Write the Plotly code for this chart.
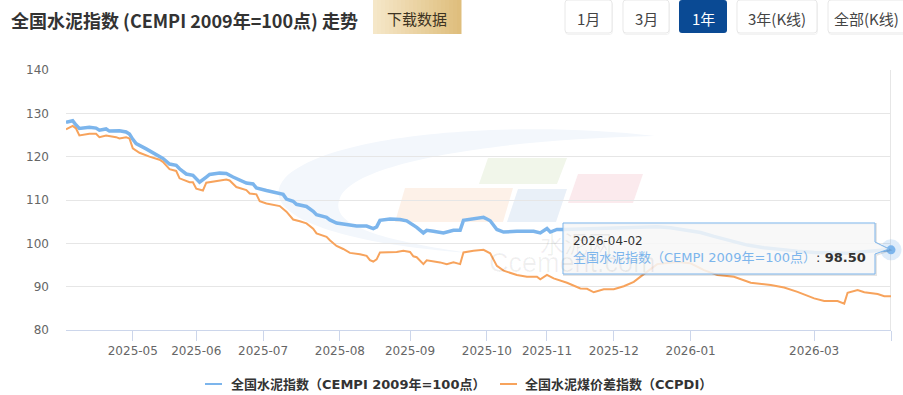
import pandas as pd
import plotly.graph_objects as go

# ---------------- calendar (publication days) ----------------
START, END = "2025-04-03", "2026-04-02"
holidays = ["2025-04-04", "2025-05-01", "2025-05-02", "2025-05-05", "2025-06-02",
            "2025-10-01", "2025-10-02", "2025-10-03", "2025-10-06", "2025-10-07", "2025-10-08",
            "2026-01-01", "2026-01-02", "2026-02-16", "2026-02-17", "2026-02-18",
            "2026-02-19", "2026-02-20", "2026-02-23"]
makeup_days = ["2025-04-27", "2025-09-28", "2025-10-11", "2026-01-04", "2026-02-14", "2026-02-28"]

# ---------------- data ----------------
cempi_dates = ["2025-04-03", "2025-04-08", "2025-04-09", "2025-04-10", "2025-04-15", "2025-04-17",
               "2025-04-18", "2025-04-22", "2025-04-23", "2025-04-27", "2025-04-29", "2025-04-30",
               "2025-05-06", "2025-05-07", "2025-05-12", "2025-05-15", "2025-05-16", "2025-05-19",
               "2025-05-21", "2025-05-23", "2025-05-26", "2025-05-28", "2025-05-30", "2025-06-03",
               "2025-06-04", "2025-06-06", "2025-06-09", "2025-06-12", "2025-06-16", "2025-06-18",
               "2025-06-20", "2025-06-24", "2025-06-26", "2025-06-27", "2025-07-02", "2025-07-07",
               "2025-07-09", "2025-07-10", "2025-07-14", "2025-07-15", "2025-07-18", "2025-07-22",
               "2025-07-23", "2025-07-28", "2025-07-29", "2025-07-31", "2025-08-05", "2025-08-08",
               "2025-08-13", "2025-08-15", "2025-08-18", "2025-08-19", "2025-08-22", "2025-08-27",
               "2025-08-29", "2025-09-02", "2025-09-03", "2025-09-05", "2025-09-08", "2025-09-10",
               "2025-09-15", "2025-09-18", "2025-09-22", "2025-09-23", "2025-09-26", "2025-09-30",
               "2025-10-09", "2025-10-10", "2025-10-13", "2025-10-15", "2025-10-21", "2025-10-28",
               "2025-10-30", "2025-11-03", "2025-11-04", "2025-11-06", "2025-11-10", "2025-11-14",
               "2025-11-24", "2025-12-02", "2025-12-10", "2025-12-18", "2025-12-24", "2025-12-30",
               "2026-01-04", "2026-01-07", "2026-01-13", "2026-01-20", "2026-01-27", "2026-02-03",
               "2026-02-10", "2026-02-24", "2026-03-02", "2026-03-09", "2026-03-16", "2026-03-20",
               "2026-03-25", "2026-03-30", "2026-04-02"]
cempi_values = [127.9, 128.3, 127.3, 126.5, 126.8, 126.6,
                126.1, 126.4, 125.9, 126.0, 125.7, 125.2,
                124.0, 123.0, 121.8, 120.6, 120.2, 119.6,
                118.3, 118.0, 117.2, 116.0, 115.7, 115.0,
                114.1, 115.3, 115.9, 116.2, 116.1, 115.3,
                114.6, 113.9, 113.7, 112.8, 112.2, 111.7,
                111.3, 110.2, 109.7, 109.0, 108.5, 107.4,
                106.6, 106.0, 105.4, 104.7, 104.3, 104.0,
                104.0, 103.4, 103.8, 105.3, 105.6, 105.5,
                105.2, 104.2, 103.7, 102.4, 103.0, 102.8,
                102.4, 103.0, 103.0, 105.3, 105.6, 106.0,
                105.6, 105.2, 103.2, 102.6, 102.8, 102.8,
                102.4, 103.4, 102.6, 103.2, 103.2, 103.3,
                103.4, 103.5, 103.6, 103.8, 103.6, 103.2,
                103.0, 102.5, 101.6, 100.6, 99.6, 99.0,
                98.5, 98.2, 97.9, 97.7, 97.7, 98.0,
                98.3, 98.4, 98.5]

ccpdi_dates = ["2025-04-03", "2025-04-08", "2025-04-09", "2025-04-10", "2025-04-15", "2025-04-17",
               "2025-04-18", "2025-04-22", "2025-04-25", "2025-04-27", "2025-04-29", "2025-04-30",
               "2025-05-06", "2025-05-08", "2025-05-13", "2025-05-16", "2025-05-19", "2025-05-21",
               "2025-05-23", "2025-05-26", "2025-05-29", "2025-05-30", "2025-06-03", "2025-06-05",
               "2025-06-06", "2025-06-11", "2025-06-16", "2025-06-17", "2025-06-19", "2025-06-24",
               "2025-06-25", "2025-06-27", "2025-06-30", "2025-07-02", "2025-07-07", "2025-07-08",
               "2025-07-10", "2025-07-11", "2025-07-14", "2025-07-16", "2025-07-18", "2025-07-22",
               "2025-07-23", "2025-07-28", "2025-07-29", "2025-07-31", "2025-08-04", "2025-08-06",
               "2025-08-11", "2025-08-13", "2025-08-14", "2025-08-15", "2025-08-18", "2025-08-19",
               "2025-08-22", "2025-08-26", "2025-08-28", "2025-09-01", "2025-09-02", "2025-09-03",
               "2025-09-05", "2025-09-08", "2025-09-12", "2025-09-16", "2025-09-18", "2025-09-22",
               "2025-09-23", "2025-09-26", "2025-09-30", "2025-10-10", "2025-10-13", "2025-10-15",
               "2025-10-21", "2025-10-24", "2025-10-29", "2025-10-30", "2025-11-03", "2025-11-05",
               "2025-11-11", "2025-11-17", "2025-11-19", "2025-11-21", "2025-11-26", "2025-12-01",
               "2025-12-04", "2025-12-09", "2025-12-12", "2025-12-18", "2025-12-26", "2026-01-04",
               "2026-01-08", "2026-01-14", "2026-01-21", "2026-01-28", "2026-02-05", "2026-02-11",
               "2026-02-24", "2026-02-27", "2026-03-02", "2026-03-05", "2026-03-11", "2026-03-13",
               "2026-03-16", "2026-03-19", "2026-03-23", "2026-03-27", "2026-03-31", "2026-04-02"]
ccpdi_values = [126.3, 127.1, 126.5, 124.9, 125.3, 125.3,
                124.5, 124.9, 124.5, 124.2, 124.5, 124.2,
                121.9, 120.9, 120.0, 119.3, 118.8, 117.1,
                116.7, 115.0, 114.1, 114.1, 112.6, 112.2,
                114.0, 114.3, 114.7, 114.5, 113.0, 112.3,
                111.5, 111.3, 109.7, 109.2, 108.8, 108.6,
                107.3, 106.5, 105.5, 105.1, 104.6, 103.4,
                102.3, 101.5, 100.7, 99.4, 98.7, 97.8,
                97.5, 97.1, 96.1, 95.8, 96.3, 97.9,
                97.9, 98.0, 98.3, 98.0, 97.0, 96.8,
                95.2, 96.1, 95.6, 95.2, 95.6, 95.2,
                97.9, 98.3, 98.5, 97.7, 94.8, 93.7,
                92.7, 92.3, 92.3, 91.7, 92.7, 91.9,
                90.9, 89.6, 89.5, 88.7, 89.4, 89.4,
                90.1, 91.1, 92.9, 95.2, 95.7, 95.4,
                93.8, 92.7, 92.3, 90.9, 90.4, 89.8,
                88.8, 88.0, 87.3, 86.7, 86.7, 86.1,
                88.6, 89.2, 88.7, 88.3, 87.8, 87.8]

tick_labels = ["2025-05", "2025-06", "2025-07", "2025-08", "2025-09",
               "2025-10", "2025-11", "2025-12", "2026-01", "2026-03"]
y_ticks = [80, 90, 100, 110, 120, 130, 140]

name_cempi = "全国水泥指数（CEMPI 2009年=100点）"
name_ccpdi = "全国水泥煤价差指数（CCPDI）"
title_text = "全国水泥指数 (CEMPI 2009年=100点) 走势"
download_text = "下载数据"
buttons = ["1月", "3月", "1年", "3年(K线)", "全部(K线)"]
watermark_cn, watermark_en = "水泥网", "Ccement.com"

# ---------------- category axis of publication days ----------------
days = set(pd.bdate_range(START, END).strftime("%Y-%m-%d"))
days = (days - set(holidays)) | set(makeup_days)
all_days = sorted(days)
n = len(all_days)
first_of_month = {}
for d in all_days:
    first_of_month.setdefault(d[:7], d)
tick_vals = [first_of_month[m] for m in tick_labels] + [all_days[-1]]
tick_text = tick_labels + [""]

# ---------------- geometry helpers (pixel -> paper) ----------------
W, H = 903, 395
L, R, T, B = 66, 891, 70, 330


def px(x):
    return (x - L) / (R - L)


def py(y):
    return (B - y) / (B - T)


def pfmt(a, b):
    return f"{px(a):.5f},{py(b):.5f}"


BLUE = "#7cb5ec"
ORANGE = "#f7a35c"
FONT = "DejaVu Sans, Noto Sans CJK SC, sans-serif"
CJK = "Noto Sans CJK SC, sans-serif"

fig = go.Figure()
fig.add_trace(go.Scatter(x=cempi_dates, y=cempi_values, mode="lines", name=name_cempi,
                         line=dict(color=BLUE, width=3.5), hoverinfo="skip", showlegend=False))
fig.add_trace(go.Scatter(x=ccpdi_dates, y=ccpdi_values, mode="lines", name=name_ccpdi,
                         line=dict(color=ORANGE, width=2), hoverinfo="skip", showlegend=False))
# hovered point marker (halo + dot)
fig.add_trace(go.Scatter(x=[cempi_dates[-1]], y=[cempi_values[-1]], mode="markers",
                         marker=dict(size=21, color="rgba(124,181,236,0.25)"),
                         showlegend=False, hoverinfo="skip", cliponaxis=False))
fig.add_trace(go.Scatter(x=[cempi_dates[-1]], y=[cempi_values[-1]], mode="markers",
                         marker=dict(size=9, color=BLUE), showlegend=False,
                         hoverinfo="skip", cliponaxis=False))

shapes = []
annotations = []


def poly(points, fill, line_color=None, layer="below", width=1):
    path = "M " + " L ".join(pfmt(a, b) for a, b in points) + " Z"
    shapes.append(dict(type="path", xref="paper", yref="paper", path=path, fillcolor=fill,
                       line=dict(color=line_color or "rgba(0,0,0,0)", width=width), layer=layer))


def rrect(x0, y0, x1, y1, fill, line_color=None, r=3, layer="above"):
    path = ("M " + pfmt(x0 + r, y0) + " L " + pfmt(x1 - r, y0) +
            " Q " + pfmt(x1, y0) + " " + pfmt(x1, y0 + r) +
            " L " + pfmt(x1, y1 - r) + " Q " + pfmt(x1, y1) + " " + pfmt(x1 - r, y1) +
            " L " + pfmt(x0 + r, y1) + " Q " + pfmt(x0, y1) + " " + pfmt(x0, y1 - r) +
            " L " + pfmt(x0, y0 + r) + " Q " + pfmt(x0, y0) + " " + pfmt(x0 + r, y0) + " Z")
    shapes.append(dict(type="path", xref="paper", yref="paper", path=path, fillcolor=fill,
                       line=dict(color=line_color or "rgba(0,0,0,0)", width=1), layer=layer))


def rect(x0, y0, x1, y1, fill, layer="above"):
    shapes.append(dict(type="rect", xref="paper", yref="paper", x0=px(x0), x1=px(x1),
                       y0=py(y1), y1=py(y0), fillcolor=fill,
                       line=dict(color="rgba(0,0,0,0)", width=0), layer=layer))


def text(x, y, s, size, color, xanchor="left", family=CJK):
    annotations.append(dict(x=px(x), y=py(y), xref="paper", yref="paper", text=s, showarrow=False,
                            xanchor=xanchor, yanchor="middle",
                            font=dict(size=size, color=color, family=family)))


# ---- watermark ----
swoosh = ("M " + pfmt(655, 136) +
          " C " + pfmt(520, 120) + " " + pfmt(330, 132) + " " + pfmt(285, 178) +
          " C " + pfmt(255, 212) + " " + pfmt(330, 243) + " " + pfmt(470, 253) +
          " C " + pfmt(380, 240) + " " + pfmt(328, 225) + " " + pfmt(340, 198) +
          " C " + pfmt(352, 165) + " " + pfmt(480, 140) + " " + pfmt(655, 136) + " Z")
shapes.append(dict(type="path", xref="paper", yref="paper", path=swoosh, fillcolor="#f3f7fc",
                   line=dict(width=0), layer="below"))
poly([(405, 188), (513, 188), (503, 222), (395, 222)], "#fdf1e8")
poly([(488, 158), (567, 158), (557, 184), (479, 184)], "#f1f6ea")
poly([(518, 189), (567, 189), (556, 222), (507, 222)], "#e9f0f8")
poly([(578, 174), (643, 174), (633, 203), (568, 203)], "#fbeaed")
text(576, 242, watermark_cn, 24, "rgba(0,0,0,0.06)", xanchor="center")
text(572, 263, watermark_en, 27, "rgba(0,0,0,0.06)", xanchor="center", family="Liberation Sans")

# ---- crosshair at hovered point ----
shapes.append(dict(type="line", xref="x", yref="paper", x0=n - 1, x1=n - 1, y0=0, y1=1,
                   line=dict(color="#cccccc", width=1), layer="below"))

# ---- tooltip ----
tip = [(563, 223), (875, 223), (875, 242), (889, 249), (875, 254), (875, 274), (563, 274)]
poly([(a + 1, b + 1) for a, b in tip], "rgba(0,0,0,0)", "rgba(0,0,0,0.10)", layer="above", width=2)
poly(tip, "rgba(247,247,247,0.86)", BLUE, layer="above", width=1)
text(571, 241, cempi_dates[-1], 12, "#333333", family=FONT)
text(571, 257,
     f"<span style='color:{BLUE}'>{name_cempi}</span>"
     f"<span style='color:#333333'>: <b>{cempi_values[-1]:.2f}</b></span>",
     13, "#333333", family=FONT)

# ---- legend (bottom, centred) ----
LEG_Y = 384
for (x0, x1, tx), color, label in zip([(205, 222, 229), (500, 517, 523)], [BLUE, ORANGE],
                                      [name_cempi, name_ccpdi]):
    shapes.append(dict(type="line", xref="paper", yref="paper", x0=px(x0), x1=px(x1),
                       y0=py(LEG_Y), y1=py(LEG_Y), line=dict(color=color, width=2), layer="above"))
    text(tx, LEG_Y, f"<b>{label}</b>", 13, "#333333", family=FONT)

# ---- header: title + buttons ----
text(9, 20, f"<b>{title_text}</b>", 18, "#333333")
gx0, gx1 = 373, 461
stripes = 22
c0, c1 = (245, 231, 200), (223, 190, 125)
for i in range(stripes):
    t = i / (stripes - 1)
    col = tuple(round(c0[k] + (c1[k] - c0[k]) * t) for k in range(3))
    xa = gx0 + (gx1 - gx0) * i / stripes
    xb = gx0 + (gx1 - gx0) * (i + 1) / stripes + 0.5
    rect(xa, 0, xb, 34, f"rgb{col}")
text(417, 18, download_text, 15, "#3d3322", xanchor="center")

btn_x = [(565, 612), (623, 669), (679, 727), (737, 817), (828, 910)]
for label, (a, b) in zip(buttons, btn_x):
    active = label == "1年"
    if not active:
        rrect(a + 0.5, 1.5, b + 0.5, 34.5, "rgba(0,0,0,0)", "rgba(0,0,0,0.05)")
    rrect(a, 0, b, 33, "#0a4a94" if active else "#ffffff", None if active else "#e8e8e8")
    text((a + b) / 2 if b <= W else (a + 903) / 2 + 0.5, 18, label, 15,
         "#ffffff" if active else "#444444", xanchor="center")

fig.update_layout(
    width=W, height=H,
    margin=dict(l=L, r=W - R, t=T, b=H - B, pad=0, autoexpand=False),
    paper_bgcolor="#ffffff", plot_bgcolor="#ffffff",
    showlegend=False,
    xaxis=dict(type="category", categoryorder="array", categoryarray=all_days,
               range=[0, n - 1], tickvals=tick_vals, ticktext=tick_text,
               ticks="outside", ticklen=10, tickcolor="#ccd6eb", tickwidth=1,
               showline=True, linecolor="#ccd6eb", linewidth=1, showgrid=False, zeroline=False,
               tickfont=dict(size=12, color="#666666", family=FONT), tickangle=0),
    yaxis=dict(range=[80, 140], tickvals=y_ticks, showgrid=True, gridcolor="#e6e6e6",
               gridwidth=1, zeroline=False, showline=False, ticks="",
               ticklabelstandoff=16, tickfont=dict(size=12, color="#666666", family=FONT)),
    shapes=shapes, annotations=annotations,
    hovermode=False,
)

fig.write_html("out.html", config={"displayModeBar": False},
               post_script="document.body.style.margin='0';document.body.style.overflow='hidden';")
